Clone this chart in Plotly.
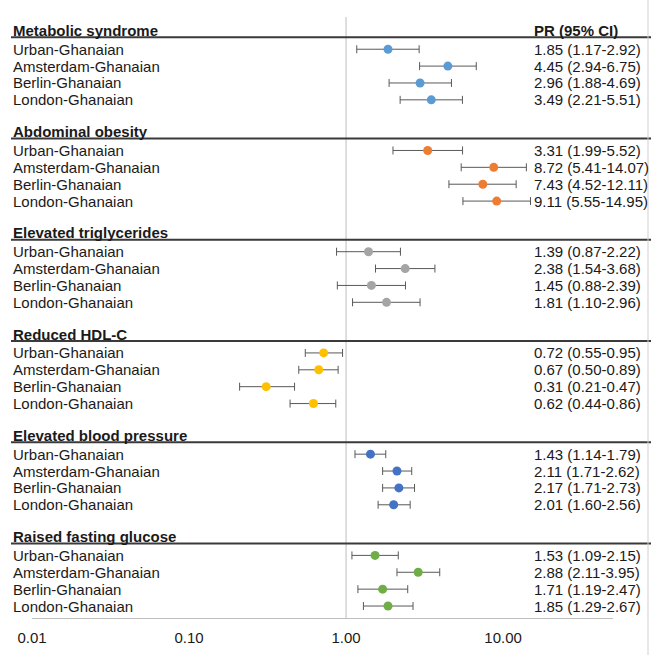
import plotly.graph_objects as go

W, H = 651, 655

groups = ["Metabolic syndrome", "Abdominal obesity", "Elevated triglycerides",
          "Reduced HDL-C", "Elevated blood pressure", "Raised fasting glucose"]
sites = ["Urban-Ghanaian", "Amsterdam-Ghanaian", "Berlin-Ghanaian", "London-Ghanaian"]
colors = ["#5B9BD5", "#ED7D31", "#A5A5A5", "#FFC000", "#4472C4", "#70AD47"]

pr = [
    [1.85, 4.45, 2.96, 3.49],
    [3.31, 8.72, 7.43, 9.11],
    [1.39, 2.38, 1.45, 1.81],
    [0.72, 0.67, 0.31, 0.62],
    [1.43, 2.11, 2.17, 2.01],
    [1.53, 2.88, 1.71, 1.85],
]
lo = [
    [1.17, 2.94, 1.88, 2.21],
    [1.99, 5.41, 4.52, 5.55],
    [0.87, 1.54, 0.88, 1.10],
    [0.55, 0.50, 0.21, 0.44],
    [1.14, 1.71, 1.71, 1.60],
    [1.09, 2.11, 1.19, 1.29],
]
hi = [
    [2.92, 6.75, 4.69, 5.51],
    [5.52, 14.07, 12.11, 14.95],
    [2.22, 3.68, 2.39, 2.96],
    [0.95, 0.89, 0.47, 0.86],
    [1.79, 2.62, 2.73, 2.56],
    [2.15, 3.95, 2.47, 2.67],
]

tick_vals = [0.01, 0.1, 1, 10]
tick_text = ["0.01", "0.10", "1.00", "10.00"]

FONT = "Liberation Sans, Arial, sans-serif"
TXT = "#1a1a1a"

fig = go.Figure()
annotations = []
shapes = []

for g, name in enumerate(groups):
    base = 6 * g
    ys = [base + i + 1 for i in range(4)]
    fig.add_trace(go.Scatter(
        x=pr[g], y=ys, mode="markers",
        marker=dict(color=colors[g], size=9, line=dict(width=0)),
        error_x=dict(type="data", symmetric=False,
                     array=[h - v for h, v in zip(hi[g], pr[g])],
                     arrayminus=[v - l for v, l in zip(pr[g], lo[g])],
                     color="#595959", thickness=1, width=4),
        showlegend=False, hoverinfo="skip",
    ))
    annotations.append(dict(x=11 / W, y=base - 0.12, xref="paper", yref="y", text=f"<b>{name}</b>",
                            showarrow=False, xanchor="left", yanchor="middle",
                            font=dict(family=FONT, size=15, color=TXT)))
    shapes.append(dict(type="line", xref="paper", yref="y", x0=11 / W, x1=1.0,
                       y0=base + 0.29, y1=base + 0.29,
                       line=dict(color="#3a3a3a", width=2)))
    if g == 0:
        annotations.append(dict(x=532 / W, y=base - 0.12, xref="paper", yref="y", text="<b>PR (95% CI)</b>",
                                showarrow=False, xanchor="left", yanchor="middle",
                                font=dict(family=FONT, size=15, color=TXT)))
    for i, s in enumerate(sites):
        annotations.append(dict(x=11 / W, y=ys[i], xref="paper", yref="y", text=s,
                                showarrow=False, xanchor="left", yanchor="middle",
                                font=dict(family=FONT, size=15, color=TXT)))
        annotations.append(dict(x=532 / W, y=ys[i], xref="paper", yref="y",
                                text=f"{pr[g][i]:.2f} ({lo[g][i]:.2f}-{hi[g][i]:.2f})",
                                showarrow=False, xanchor="left", yanchor="middle",
                                font=dict(family=FONT, size=15, color=TXT)))

shapes.append(dict(type="line", xref="x", yref="paper", x0=1, x1=1, y0=0, y1=1,
                   line=dict(color="#c8c8c8", width=1.2), layer="below"))
shapes.append(dict(type="line", xref="paper", yref="paper", x0=648 / W, x1=648 / W,
                   y0=-37 / 601, y1=1 + 17 / 601, line=dict(color="#d0d0d0", width=1)))

fig.update_layout(
    width=W, height=H,
    margin=dict(l=0, r=0, t=17, b=37, pad=0),
    paper_bgcolor="white", plot_bgcolor="white",
    font=dict(family=FONT, size=15, color=TXT),
    annotations=annotations, shapes=shapes,
    xaxis=dict(type="log", range=[-2.0, 1.70], domain=[32 / W, 613 / W],
               tickvals=tick_vals, ticktext=tick_text, showgrid=False, zeroline=False,
               showline=True, linecolor="#bfbfbf", linewidth=1, ticks="",
               automargin=False,
               tickfont=dict(family=FONT, size=15, color=TXT), ticklabelstandoff=6),
    yaxis=dict(range=[34.71, -0.91], visible=False, showgrid=False, zeroline=False,
               automargin=False),
)

fig.write_html("out.html", config={"displayModeBar": False},
               post_script="document.body.style.margin='0';document.body.style.overflow='hidden';")
